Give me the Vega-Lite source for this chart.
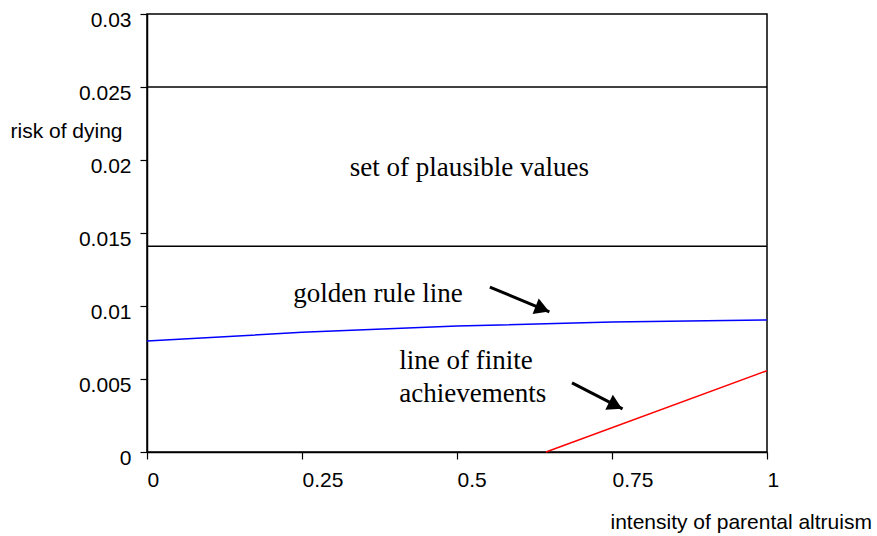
{
  "$schema": "https://vega.github.io/schema/vega-lite/v6.json",
  "autosize": "none",
  "width": 620,
  "height": 438,
  "padding": {"left": 147, "top": 14, "right": 110, "bottom": 84},
  "background": "white",
  "config": {
    "view": {"stroke": "black", "strokeWidth": 1.5},
    "axis": {
      "grid": false,
      "domainColor": "black",
      "domainWidth": 1.5,
      "tickColor": "black",
      "tickWidth": 1.2,
      "labelColor": "black",
      "labelFont": "Liberation Sans",
      "labelFontSize": 21,
      "titleFont": "Liberation Sans",
      "titleFontSize": 21,
      "titleFontWeight": "normal",
      "titleColor": "black"
    }
  },
  "datasets": {
    "bands": [{"level": 0.025}, {"level": 0.0141}],
    "golden": [
      {"altruism": 0, "risk": 0.0076},
      {"altruism": 0.25, "risk": 0.0082},
      {"altruism": 0.5, "risk": 0.00863},
      {"altruism": 0.75, "risk": 0.0089},
      {"altruism": 1, "risk": 0.00904}
    ],
    "finite": [
      {"altruism": 0.6435, "risk": 0},
      {"altruism": 1, "risk": 0.00557}
    ],
    "arrows": [
      {"name": "golden", "x": 0.553, "y": 0.0113, "x2": 0.649, "y2": 0.0096},
      {"name": "finite", "x": 0.6855, "y": 0.00473, "x2": 0.767, "y2": 0.00295}
    ],
    "labels": [
      {"label": "set of plausible values", "x": 0.52, "y": 0.0189, "align": "center"},
      {"label": "golden rule line", "x": 0.3726, "y": 0.0103, "align": "center"},
      {"label": "line of finite", "x": 0.407, "y": 0.00566, "align": "left"},
      {"label": "achievements", "x": 0.407, "y": 0.00345, "align": "left"}
    ]
  },
  "layer": [
    {
      "data": {"name": "bands"},
      "mark": {"type": "rule", "color": "black", "strokeWidth": 1.5},
      "encoding": {
        "y": {
          "field": "level", "type": "quantitative",
          "scale": {"domain": [0, 0.03], "nice": false, "zero": false},
          "axis": {
            "values": [0, 0.005, 0.01, 0.015, 0.02, 0.025, 0.03],
            "format": "~g",
            "tickSize": 7,
            "labelPadding": 9,
            "labelOffset": 6,
            "title": "risk of dying",
            "titleAngle": 0,
            "titleAlign": "left",
            "titleBaseline": "middle",
            "titleX": -137,
            "titleY": 117
          }
        }
      }
    },
    {
      "data": {"name": "golden"},
      "mark": {"type": "line", "color": "#0000ff", "strokeWidth": 1.5},
      "encoding": {
        "x": {
          "field": "altruism", "type": "quantitative",
          "scale": {"domain": [0, 1], "nice": false},
          "axis": {
            "values": [0, 0.25, 0.5, 0.75, 1],
            "format": "~g",
            "tickSize": 7,
            "labelPadding": 10,
            "labelAlign": "left",
            "labelBaseline": "top",
            "labelFlush": false,
            "title": "intensity of parental altruism",
            "titleAlign": "left",
            "titleBaseline": "middle",
            "titleX": 463,
            "titleY": 70
          }
        },
        "y": {"field": "risk", "type": "quantitative"}
      }
    },
    {
      "data": {"name": "finite"},
      "mark": {"type": "line", "color": "#ff0000", "strokeWidth": 1.5},
      "encoding": {
        "x": {"field": "altruism", "type": "quantitative"},
        "y": {"field": "risk", "type": "quantitative"}
      }
    },
    {
      "data": {"name": "arrows"},
      "mark": {"type": "rule", "color": "black", "strokeWidth": 3},
      "encoding": {
        "x": {"field": "x", "type": "quantitative"},
        "y": {"field": "y", "type": "quantitative"},
        "x2": {"field": "x2"},
        "y2": {"field": "y2"}
      }
    },
    {
      "data": {"name": "arrows"},
      "transform": [{"filter": "datum.name == 'golden'"}],
      "mark": {"type": "point", "shape": "triangle-right", "filled": true, "color": "black", "opacity": 1, "size": 280, "angle": 21.6, "xOffset": -7, "yOffset": -3},
      "encoding": {
        "x": {"field": "x2", "type": "quantitative"},
        "y": {"field": "y2", "type": "quantitative"}
      }
    },
    {
      "data": {"name": "arrows"},
      "transform": [{"filter": "datum.name == 'finite'"}],
      "mark": {"type": "point", "shape": "triangle-right", "filled": true, "color": "black", "opacity": 1, "size": 280, "angle": 26.6, "xOffset": -7, "yOffset": -3.5},
      "encoding": {
        "x": {"field": "x2", "type": "quantitative"},
        "y": {"field": "y2", "type": "quantitative"}
      }
    },
    {
      "data": {"name": "labels"},
      "transform": [{"filter": "datum.align == 'center'"}],
      "mark": {"type": "text", "font": "Liberation Serif", "fontSize": 27, "color": "black", "align": "center", "baseline": "alphabetic"},
      "encoding": {
        "x": {"field": "x", "type": "quantitative"},
        "y": {"field": "y", "type": "quantitative"},
        "text": {"field": "label"}
      }
    },
    {
      "data": {"name": "labels"},
      "transform": [{"filter": "datum.align == 'left'"}],
      "mark": {"type": "text", "font": "Liberation Serif", "fontSize": 27, "color": "black", "align": "left", "baseline": "alphabetic"},
      "encoding": {
        "x": {"field": "x", "type": "quantitative"},
        "y": {"field": "y", "type": "quantitative"},
        "text": {"field": "label"}
      }
    }
  ]
}
